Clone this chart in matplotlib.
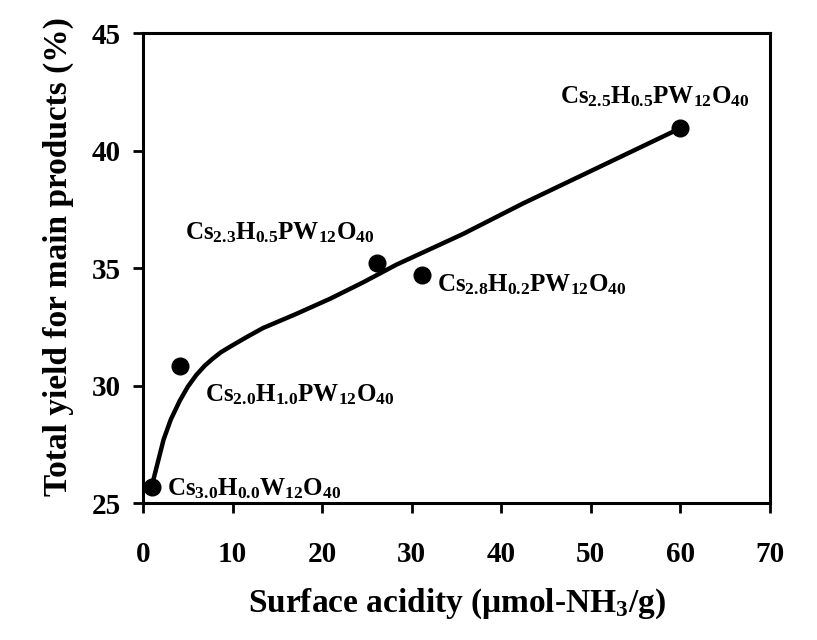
import numpy as np
import matplotlib
matplotlib.use('Agg')
import matplotlib.pyplot as plt

plt.rcParams['font.family'] = 'Liberation Serif'
plt.rcParams['font.weight'] = 'bold'
plt.rcParams['mathtext.fontset'] = 'custom'
plt.rcParams['mathtext.rm'] = 'Liberation Serif:bold'
plt.rcParams['mathtext.it'] = 'Liberation Serif:bold:italic'
plt.rcParams['mathtext.bf'] = 'Liberation Serif:bold'

# measured points
acidity = [1.0, 4.1, 26.1, 31.1, 60.0]
yieldPct = [25.7, 30.85, 35.2, 34.7, 40.96]

# fitted trend curve
curveX = [1.0, 2.3, 3.1, 4.1, 5.0, 5.95, 6.9, 7.8, 8.7, 9.7, 11.5, 13.4, 17.1, 20.9, 24.6, 28.3, 35.7, 42.4, 60.0]
curveY = [25.75, 27.7, 28.55, 29.35, 29.95, 30.45, 30.85, 31.15, 31.42, 31.65, 32.05, 32.45, 33.05, 33.7, 34.4, 35.15, 36.45, 37.75, 40.96]

labels = [r'$\mathrm{Cs_{3.0}H_{0.0}W_{12}O_{40}}$',
          r'$\mathrm{Cs_{2.0}H_{1.0}PW_{12}O_{40}}$',
          r'$\mathrm{Cs_{2.3}H_{0.5}PW_{12}O_{40}}$',
          r'$\mathrm{Cs_{2.8}H_{0.2}PW_{12}O_{40}}$',
          r'$\mathrm{Cs_{2.5}H_{0.5}PW_{12}O_{40}}$']
labelX = [2.7, 6.9, 4.7, 32.8, 46.5]
labelY = [25.6, 29.6, 36.5, 34.3, 42.3]

fig = plt.figure(figsize=(8.17, 6.4), dpi=100)
ax = fig.add_axes([0.175, 0.214, 0.7675, 0.734])

ax.plot(curveX, curveY, color='black', lw=3.2, solid_capstyle='round', solid_joinstyle='round')
ax.plot(acidity, yieldPct, 'o', color='black', markersize=12)

for t, x, y in zip(labels, labelX, labelY):
    ax.text(x, y, t, fontsize=18, va='center', ha='left')

ax.set_xlim(0, 70)
ax.set_ylim(25, 45)
ax.set_xticks(range(0, 71, 10))
ax.set_yticks(range(25, 46, 5))
for s in ax.spines.values():
    s.set_linewidth(2.2)
ax.tick_params(axis='x', direction='out', length=7, width=2, labelsize=21, pad=20)
ax.tick_params(axis='y', direction='out', length=7, width=2, labelsize=21, pad=9)

ax.set_xlabel('Surface acidity (\u03bcmol-NH$_3$/g)', fontsize=24, fontweight='bold', labelpad=14)
ax.set_ylabel('Total yield for main products (%)', fontsize=24, fontweight='bold')
ax.yaxis.set_label_coords(-0.11, 0.525)

fig.savefig('out.png', dpi=100)
